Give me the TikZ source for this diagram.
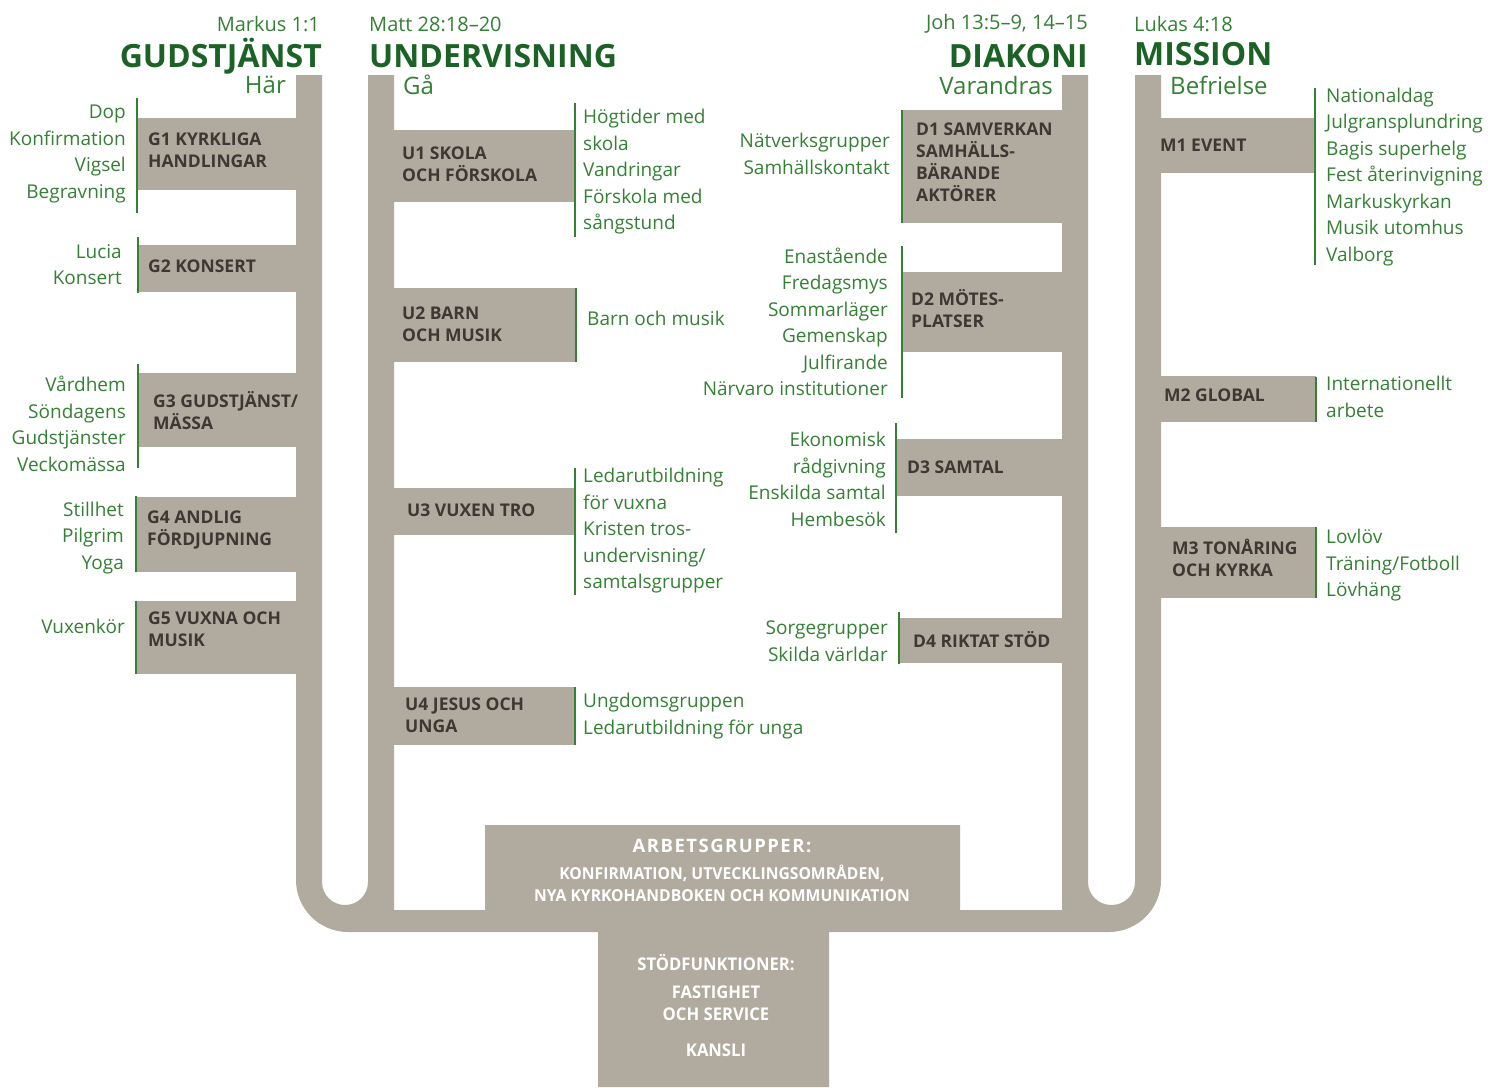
\documentclass[tikz,border=0pt]{standalone}
\usepackage{fontspec}
\setmainfont{Open Sans}
\newfontfamily\narrowfont[FakeStretch=0.95]{Open Sans}
\usetikzlibrary{positioning}

\definecolor{barfill}{RGB}{177,171,159}
\definecolor{leafgreen}{RGB}{52,128,52}
\definecolor{headgreen}{RGB}{28,98,38}
\definecolor{labelgrey}{RGB}{62,56,52}

\begin{document}
\begin{tikzpicture}[
    x=1pt, y=-1pt,
    item/.style={font=\fontsize{19}{26.5}\selectfont, text=leafgreen, inner sep=0pt, yshift=-2pt},
    itemleft/.style={item, align=right, anchor=east},
    itemright/.style={item, align=left, anchor=west},
    branch/.style={font=\bfseries\fontsize{17.5}{22}\selectfont, text=labelgrey, align=left, anchor=west, inner sep=0pt},
    bar/.style={fill=barfill},
    rule/.style={draw=leafgreen, line width=1.8pt},
    verse/.style={font=\fontsize{20}{24}\selectfont, text=leafgreen, inner sep=0pt},
    area/.style={font=\bfseries\fontsize{32}{36}\selectfont, text=headgreen, inner sep=0pt},
    motto/.style={font=\fontsize{24}{28}\selectfont, text=leafgreen, inner sep=0pt},
    support/.style={font=\narrowfont\bfseries\fontsize{16.5}{22.5}\selectfont, text=white, align=center, inner sep=0pt}
]
\useasboundingbox (0,0) rectangle (1488,1087);

% stammar, bas och arbetsgrupper
\fill[barfill] (296,75) -- (296,880) .. controls (296,908.7) and (319.3,932) .. (348,932)
  -- (598,932) -- (598,1087) -- (829,1087) -- (829,932) -- (1109,932)
  .. controls (1137.7,932) and (1161,908.7) .. (1161,880) -- (1161,75) -- (1135,75)
  -- (1135,882) .. controls (1135,894.7) and (1124.7,905) .. (1111.5,905)
  .. controls (1098.3,905) and (1088,894.7) .. (1088,882) -- (1088,75) -- (1062,75)
  -- (1062,910) -- (960,910) -- (960,825) -- (485,825) -- (485,910) -- (394,910)
  -- (394,75) -- (368,75) -- (368,882) .. controls (368,894.7) and (357.7,905) .. (345,905)
  .. controls (332.3,905) and (322,894.7) .. (322,882) -- (322,75) -- cycle;

% rubriker
\node[verse, anchor=east] (gverse) at (320,24) {Markus 1:1};
\node[area, anchor=east] (garea) at (322,56) {GUDSTJÄNST};
\node[motto, anchor=east] (gmotto) at (286,85) {Här};
\node[verse, anchor=west] (uverse) at (369,24) {Matt 28:18–20};
\node[area, anchor=west] (uarea) at (369,56) {UNDERVISNING};
\node[motto, anchor=west] (umotto) at (403,85) {Gå};
\node[verse, anchor=east] (dverse) at (1088,24) {Joh 13:5–9, 14–15};
\node[area, anchor=east] (darea) at (1088,56) {DIAKONI};
\node[motto, anchor=east] (dmotto) at (1053,85) {Varandras};
\node[verse, anchor=west] (mverse) at (1134,24) {Lukas 4:18};
\node[area, anchor=west] (marea) at (1134,54) {MISSION};
\node[motto, anchor=west] (mmotto) at (1170,85) {Befrielse};

% gudstjänst
\fill[bar] (137,118) rectangle (296,190);
\draw[rule] (137,98) -- (137,213);
\node[branch] (g1) at (148,150) {G1 KYRKLIGA\\HANDLINGAR};
\node[itemleft] (g1list) at (126,152) {Dop\\Konfirmation\\Vigsel\\Begravning};

\fill[bar] (138,245) rectangle (296,292);
\draw[rule] (138,237) -- (138,293);
\node[branch] (g2) at (148,266) {G2 KONSERT};
\node[itemleft] (g2list) at (122,262.5) {Lucia\\Konsert};

\fill[bar] (138,373) rectangle (296,447);
\draw[rule] (138,364) -- (138,468);
\node[branch] (g3) at (153,411) {G3 GUDSTJÄNST/\\MÄSSA};
\node[itemleft] (g3list) at (126,422) {Vårdhem\\Söndagens\\Gudstjänster\\Veckomässa};

\fill[bar] (136,497) rectangle (296,572);
\draw[rule] (136,496) -- (136,572);
\node[branch] (g4) at (147,530) {G4 ANDLIG\\FÖRDJUPNING};
\node[itemleft] (g4list) at (124,536) {Stillhet\\Pilgrim\\Yoga};

\fill[bar] (136,601) rectangle (296,674);
\draw[rule] (136,601) -- (136,674);
\node[branch] (g5) at (148,629) {G5 VUXNA OCH\\MUSIK};
\node[itemleft] (g5list) at (125,624) {Vuxenkör};

% undervisning
\fill[bar] (394,130) rectangle (575,202);
\draw[rule] (575,103) -- (575,237);
\node[branch] (u1) at (402,164) {U1 SKOLA\\OCH FÖRSKOLA};
\node[itemright] (u1list) at (583,170) {Högtider med\\skola\\Vandringar\\Förskola med\\sångstund};

\fill[bar] (394,288) rectangle (576,362);
\draw[rule] (576,288) -- (576,362);
\node[branch] (u2) at (402,324) {U2 BARN\\OCH MUSIK};
\node[itemright] (u2list) at (587,316) {Barn och musik};

\fill[bar] (394,488) rectangle (575,535);
\draw[rule] (575,468) -- (575,595);
\node[branch] (u3) at (407,510) {U3 VUXEN TRO};
\node[itemright] (u3list) at (583,529) {Ledarutbildning\\för vuxna\\Kristen tros-\\undervisning/\\samtalsgrupper};

\fill[bar] (394,687) rectangle (575,745);
\draw[rule] (575,687) -- (575,745);
\node[branch] (u4) at (405,715.5) {U4 JESUS OCH\\UNGA};
\node[itemright] (u4list) at (583,714) {Ungdomsgruppen\\Ledarutbildning för unga};

% diakoni
\fill[bar] (902,110) rectangle (1062,223);
\draw[rule] (902,110) -- (902,223);
\node[branch] (d1) at (916,162) {D1 SAMVERKAN\\SAMHÄLLS-\\BÄRANDE\\AKTÖRER};
\node[itemleft] (d1list) at (890,152) {Nätverksgrupper\\Samhällskontakt};

\fill[bar] (902,272) rectangle (1062,352);
\draw[rule] (902,246) -- (902,398);
\node[branch] (d2) at (911,309) {D2 MÖTES-\\PLATSER};
\node[itemleft] (d2list) at (888,320) {Enastående\\Fredagsmys\\Sommarläger\\Gemenskap\\Julfirande\\Närvaro institutioner};

\fill[bar] (896,439) rectangle (1062,496);
\draw[rule] (896,423) -- (896,533);
\node[branch] (d3) at (907,467) {D3 SAMTAL};
\node[itemleft] (d3list) at (886,477.5) {Ekonomisk\\rådgivning\\Enskilda samtal\\Hembesök};

\fill[bar] (899,618) rectangle (1062,663);
\draw[rule] (899,612) -- (899,664);
\node[branch] (d4) at (913,640) {D4 RIKTAT STÖD};
\node[itemleft] (d4list) at (888,639) {Sorgegrupper\\Skilda världar};

% mission
\fill[bar] (1161,118) rectangle (1315,173);
\draw[rule] (1315,88) -- (1315,265);
\node[branch] (m1) at (1160,145) {M1 EVENT};
\node[itemright] (m1list) at (1326,175) {Nationaldag\\Julgransplundring\\Bagis superhelg\\Fest återinvigning\\Markuskyrkan\\Musik utomhus\\Valborg};

\fill[bar] (1161,376) rectangle (1316,422);
\draw[rule] (1316,377) -- (1316,422);
\node[branch] (m2) at (1164,395) {M2 GLOBAL};
\node[itemright] (m2list) at (1326,395) {Internationellt\\arbete};

\fill[bar] (1161,527) rectangle (1316,598);
\draw[rule] (1316,527) -- (1316,598);
\node[branch] (m3) at (1172,558) {M3 TONÅRING\\OCH KYRKA};
\node[itemright] (m3list) at (1326,563.5) {Lovlöv\\Träning/Fotboll\\Lövhäng};

% arbetsgrupper och stödfunktioner
\node[support, font=\bfseries\fontsize{18.5}{22}\selectfont\addfontfeature{LetterSpace=8}] (work) at (722,846) {ARBETSGRUPPER:};
\node[support] (worklist) at (722,883.5) {KONFIRMATION, UTVECKLINGSOMRÅDEN,\\NYA KYRKOHANDBOKEN OCH KOMMUNIKATION};
\node[support, font=\narrowfont\bfseries\fontsize{17.5}{22}\selectfont] (supp) at (716,963) {STÖDFUNKTIONER:};
\node[support, font=\narrowfont\bfseries\fontsize{17.5}{22}\selectfont] (supplist) at (716,1003) {FASTIGHET\\OCH SERVICE};
\node[support, font=\narrowfont\bfseries\fontsize{17.5}{22}\selectfont] (office) at (716,1050) {KANSLI};

\end{tikzpicture}
\end{document}
